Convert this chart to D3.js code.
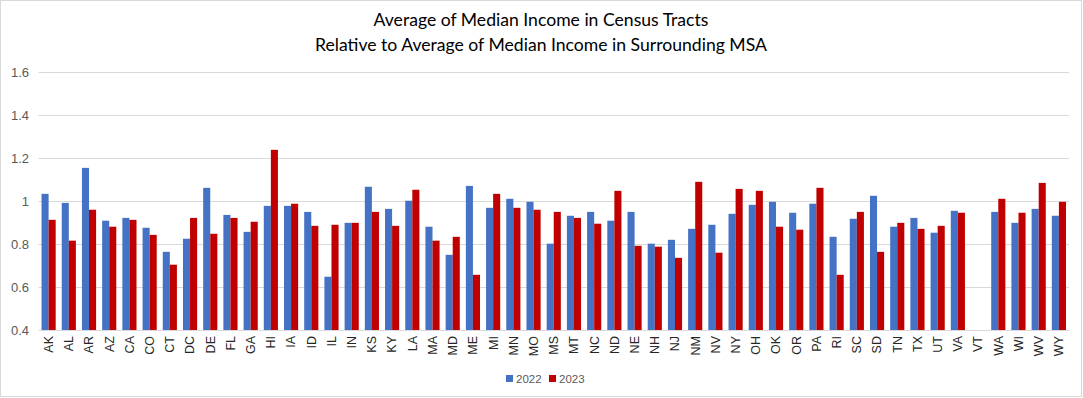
<!DOCTYPE html>
<html>
<head>
<meta charset="utf-8">
<script src="https://cdn.jsdelivr.net/npm/d3@7"></script>
<style>
  html, body { margin: 0; padding: 0; background: #fff; }
  svg { display: block; }
</style>
</head>
<body>
<svg id="chart" width="1083" height="398"></svg>
<script>
const states = ["AK","AL","AR","AZ","CA","CO","CT","DC","DE","FL","GA","HI","IA","ID","IL","IN","KS","KY","LA","MA","MD","ME","MI","MN","MO","MS","MT","NC","ND","NE","NH","NJ","NM","NV","NY","OH","OK","OR","PA","RI","SC","SD","TN","TX","UT","VA","VT","WA","WI","WV","WY"];
const values2022 = [1.034,0.992,1.155,0.909,0.922,0.876,0.764,0.825,1.062,0.936,0.857,0.978,0.978,0.950,0.648,0.899,1.067,0.964,1.002,0.881,0.750,1.071,0.969,1.011,0.997,0.802,0.932,0.950,0.909,0.950,0.802,0.820,0.871,0.890,0.941,0.983,0.997,0.946,0.988,0.834,0.918,1.025,0.881,0.922,0.853,0.955,null,0.950,0.899,0.964,0.932];
const values2023 = [0.913,0.816,0.960,0.881,0.913,0.843,0.704,0.922,0.848,0.922,0.904,1.239,0.988,0.885,0.890,0.899,0.950,0.885,1.053,0.816,0.834,0.657,1.034,0.969,0.960,0.950,0.922,0.895,1.048,0.792,0.788,0.736,1.090,0.760,1.057,1.048,0.881,0.867,1.062,0.657,0.950,0.764,0.899,0.871,0.885,0.946,null,1.011,0.946,1.085,0.997];
const seriesNames = ["2022","2023"];
const seriesColors = ["#4472C4","#C00000"];
const yTicks = [0.4,0.6,0.8,1.0,1.2,1.4,1.6];
const titleLines = ["Average of Median Income in Census Tracts","Relative to Average of Median Income in Surrounding MSA"];

const svg = d3.select("#chart");
const m = {left: 38.5, right: 1069, top: 72.3, bottom: 330};

svg.append("rect").attr("x",0.5).attr("y",0.5).attr("width",1081).attr("height",396)
  .attr("fill","#fff").attr("stroke","#d9d9d9");

const x = d3.scaleBand().domain(states).range([m.left, m.right]).paddingInner(0.3).paddingOuter(0.15);
const x1 = d3.scaleBand().domain(seriesNames).range([0, x.bandwidth()]);
const y = d3.scaleLinear().domain([0.4, 1.6]).range([m.bottom, m.top]);

// gridlines
svg.append("g").selectAll("line").data(yTicks).join("line")
  .attr("x1", m.left).attr("x2", m.right)
  .attr("y1", d => Math.round(y(d)) + 0.5).attr("y2", d => Math.round(y(d)) + 0.5)
  .attr("stroke", "#d9d9d9").attr("stroke-width", 1);

// y axis labels
const yAxis = d3.axisLeft(y).tickValues(yTicks).tickSize(0).tickPadding(0)
  .tickFormat(d => d3.format("")(+d.toFixed(1)));
const gy = svg.append("g").attr("transform", `translate(29,0)`).call(yAxis);
gy.select(".domain").remove();
gy.selectAll("text").attr("font-family","'Liberation Sans', Arial, sans-serif")
  .attr("font-size", 13).attr("fill", "#595959");

// bars
const data = states.map((s,i) => ({state: s, vals: [values2022[i], values2023[i]]}));
const groups = svg.append("g").selectAll("g").data(data).join("g")
  .attr("transform", d => `translate(${x(d.state)},0)`);
groups.selectAll("rect").data(d => d.vals.map((v,j) => ({v, j})).filter(e => e.v != null))
  .join("rect")
  .attr("x", d => x1(seriesNames[d.j]))
  .attr("width", x1.bandwidth())
  .attr("y", d => y(d.v))
  .attr("height", d => y(0.4) - y(d.v))
  .attr("fill", d => seriesColors[d.j]);

// x axis labels
const xAxis = d3.axisBottom(x).tickSize(0).tickPadding(0);
const gx = svg.append("g").attr("transform", `translate(0,${m.bottom})`).call(xAxis);
gx.select(".domain").remove();
gx.selectAll("text")
  .attr("font-family","'Liberation Sans', Arial, sans-serif").attr("font-size", 12.5).attr("fill", "#262626")
  .attr("transform", "rotate(-90)")
  .attr("text-anchor", "end")
  .attr("x", -6).attr("y", 0).attr("dy", "0.35em");

// title
svg.append("g").selectAll("text").data(titleLines).join("text")
  .attr("x", 541).attr("y", (d,i) => 26 + i*25)
  .attr("text-anchor","middle")
  .attr("font-family","Lato, 'Open Sans', sans-serif").attr("font-size", 17.6)
  .attr("fill","#000").text(d => d);

// legend
const legend = svg.append("g");
const legX = [506, 549];
seriesNames.forEach((n,i) => {
  legend.append("rect").attr("x", legX[i]).attr("y", 375).attr("width", 7).attr("height", 7).attr("fill", seriesColors[i]);
  legend.append("text").attr("x", legX[i] + 10).attr("y", 378.5).attr("dy","0.35em")
    .attr("font-family","'Liberation Sans', Arial, sans-serif").attr("font-size", 11.5).attr("fill","#595959").text(n);
});
</script>
</body>
</html>
